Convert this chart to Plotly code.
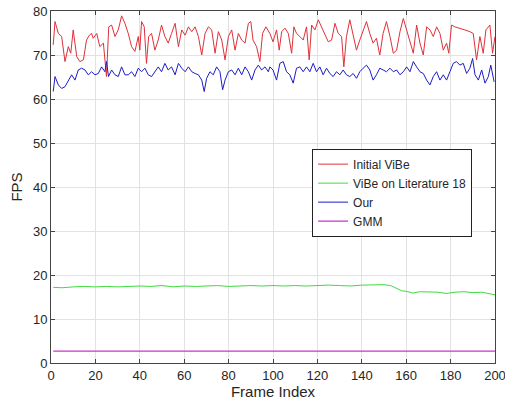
import plotly.graph_objects as go

# ---- data ----
red_frames = [1, 1.8, 3.3, 4.8, 6.3, 7.8, 8.9, 10, 11.6, 13, 14.6, 16, 17.3, 18.3, 19, 20.6, 22, 23.6,
              25, 26, 27.3, 28.8, 30.3, 31.8, 33.3, 34.8, 36.3, 37.8, 39.3, 40, 40.8, 42, 43, 44, 45.3,
              46.8, 48.3, 49.8, 51.3, 52.8, 54.3, 55.9, 57.4, 58.9, 60.4, 61.9, 63.4, 64.9, 66.4, 67.9,
              69.4, 70.9, 72.4, 73.9, 75.4, 76.9, 78.4, 79.9, 81.4, 82.9, 84.4, 85.9, 87.4, 88.9, 90,
              91, 92.6, 94.1, 95.3, 96.8, 98.6, 100, 101.6, 102.8, 103.9, 105.4, 106.9, 108.4, 109.4,
              110.6, 112.1, 113.6, 115.1, 116.3, 117.4, 118.9, 120.4, 121.9, 123.4, 124.9, 126.4,
              127.9, 129.4, 130.9, 131.9, 133.1, 134.6, 136.1, 137.6, 139.1, 140.6, 142.1, 143.6,
              145.1, 146.6, 148.1, 149.6, 151.1, 152.7, 154.2, 155.7, 157.2, 158.7, 160.2, 161.7,
              163.2, 164.7, 166.2, 167.7, 169.2, 170.7, 172.2, 173.7, 175.2, 176.7, 178.2, 179.2,
              180.4, 181.9, 184.2, 186.4, 188.7, 190.2, 191.7, 193.2, 194.7, 195.9, 197.7, 198.9, 200]
red_fps = [72.3, 77.6, 74.9, 74.2, 68.5, 71.9, 70.4, 75.7, 69.6, 68.5, 68.9, 73.4, 74.5, 74.9, 73.8,
           74.9, 71.9, 72.7, 65.1, 76.4, 76.8, 74.2, 75.7, 78.9, 77.2, 74.9, 71.9, 70.8, 74.2, 71.1,
           77.6, 76.4, 68.1, 74.2, 74.9, 71.1, 73.4, 76.8, 74.2, 72.7, 74.9, 77.2, 71.9, 75.7, 74.5,
           76.4, 75.3, 76.4, 74.2, 70.0, 74.9, 76.4, 75.7, 70.4, 75.3, 73.4, 68.9, 74.2, 75.7, 71.1,
           74.9, 73.4, 72.7, 77.2, 77.6, 73.4, 71.9, 68.5, 74.9, 76.4, 74.9, 73.0, 75.7, 71.1, 75.3,
           76.1, 74.9, 70.4, 76.4, 74.9, 74.2, 73.4, 76.4, 68.9, 76.8, 75.7, 78.0, 76.4, 74.9, 73.0,
           73.4, 77.2, 74.9, 74.2, 67.3, 74.2, 78.0, 74.9, 71.1, 73.4, 75.7, 77.6, 74.9, 72.7, 73.8,
           70.0, 74.9, 77.6, 74.2, 70.4, 71.1, 75.3, 78.3, 75.7, 72.7, 70.4, 76.8, 72.7, 70.0, 76.4,
           75.7, 74.2, 76.4, 74.9, 71.1, 72.7, 70.4, 76.8, 76.4, 76.1, 75.7, 75.3, 74.9, 68.9, 74.2,
           70.4, 75.7, 76.8, 70.4, 74.2]

blue_frames = [1, 1.8, 3.3, 4.8, 6.3, 7.8, 9.3, 10.8, 12.3, 13.8, 15.3, 16.8, 18.3, 19.8, 21.3, 22.8,
               24.3, 25, 25.9, 27.3, 28.8, 30.3, 31.8, 33.3, 34.8, 36.3, 37.8, 39.3, 40.8, 42.3, 43.8,
               45.3, 46.8, 48.3, 49.8, 51.3, 52.8, 54.3, 55.9, 57.4, 58.9, 60.4, 61.9, 63.4, 64.9,
               66.4, 67.9, 69, 70.1, 71.6, 73.1, 74.6, 76.1, 77.3, 78.4, 79.9, 81.4, 82.9, 84.4, 85.9,
               87.4, 88.9, 90.4, 91.9, 93.4, 94.9, 96.4, 97.9, 98.6, 100, 101.6, 103.1, 104.6, 106.1,
               107.6, 109.1, 110.6, 112.1, 113.6, 115.1, 116.6, 118.1, 119.6, 121.1, 122.6, 124.1,
               125.6, 127.1, 128.6, 130.1, 131.6, 133.1, 134.6, 136.1, 137.6, 139.1, 140.6, 142.1,
               143.6, 145.1, 146.6, 148.1, 149.6, 151.1, 152.7, 154.2, 155.7, 157.2, 158.7, 160.2,
               161.7, 163.2, 164.7, 166.2, 167.7, 169.2, 170.7, 172.2, 173.7, 175.2, 176.7, 178.2,
               179.7, 181.2, 182.7, 184.2, 185.7, 187.2, 188.7, 189.9, 191, 192.5, 194, 195.5, 197,
               198.1, 199.6]
blue_fps = [61.7, 65.1, 63.2, 62.4, 62.8, 64.3, 65.5, 64.3, 66.6, 67.0, 66.6, 65.5, 66.2, 65.5, 65.8,
            67.3, 66.2, 68.5, 65.1, 66.6, 65.5, 65.1, 67.3, 65.5, 65.5, 66.2, 65.1, 67.0, 66.2, 67.0,
            65.5, 65.1, 66.2, 67.3, 66.2, 68.1, 66.6, 67.3, 65.5, 68.1, 67.0, 66.2, 67.3, 66.2, 65.8,
            65.5, 64.3, 61.7, 64.7, 66.2, 65.5, 67.3, 66.2, 62.1, 64.3, 66.2, 66.6, 65.5, 67.0, 65.5,
            67.3, 66.2, 64.3, 66.6, 67.7, 66.6, 67.3, 66.2, 67.3, 66.6, 64.3, 68.1, 68.5, 66.2, 65.5,
            63.6, 67.0, 67.3, 66.2, 67.3, 66.2, 68.1, 66.2, 67.3, 65.5, 67.0, 65.8, 65.1, 66.2, 65.5,
            66.6, 65.5, 65.1, 65.8, 64.7, 66.2, 67.0, 67.7, 66.6, 64.3, 65.5, 67.0, 66.6, 66.2, 67.0,
            66.2, 66.6, 65.5, 66.2, 67.3, 66.2, 68.5, 67.3, 66.2, 65.8, 64.3, 63.2, 65.1, 66.2, 64.3,
            65.5, 64.3, 66.2, 68.1, 68.5, 67.7, 68.1, 65.8, 67.0, 69.2, 65.5, 64.3, 66.6, 63.6, 65.1,
            67.7, 63.9]

green_frames = [1, 5, 10, 15, 20, 25, 30, 35, 40, 45, 50, 55, 60, 65, 70, 75, 80, 85, 90, 95, 100,
                105, 110, 115, 120, 125, 130, 135, 140, 145, 150, 153, 156, 158, 160, 163, 166, 170,
                174, 178, 182, 186, 190, 194, 197, 200]
green_fps = [17.2, 17.1, 17.3, 17.4, 17.3, 17.4, 17.3, 17.4, 17.5, 17.4, 17.6, 17.3, 17.5, 17.4,
             17.5, 17.6, 17.4, 17.5, 17.6, 17.5, 17.6, 17.5, 17.6, 17.5, 17.6, 17.7, 17.6, 17.5,
             17.7, 17.8, 17.8, 17.6, 16.9, 16.4, 16.3, 15.9, 16.2, 16.2, 16.1, 15.8, 16.1, 16.2,
             16.0, 16.1, 15.8, 15.5]

gmm_frames = [1, 10, 20, 40, 60, 80, 100, 120, 140, 160, 180, 190, 200]
gmm_fps = [2.7, 2.7, 2.7, 2.7, 2.7, 2.7, 2.7, 2.7, 2.7, 2.7, 2.7, 2.6, 2.7]

x_ticks = list(range(0, 201, 20))
y_ticks = list(range(0, 81, 10))

FONT = "Liberation Sans, Arial, sans-serif"

fig = go.Figure()
fig.add_trace(go.Scatter(x=red_frames, y=red_fps, mode="lines", name="Initial ViBe",
                         line=dict(color="#e0303a", width=1)))
fig.add_trace(go.Scatter(x=green_frames, y=green_fps, mode="lines", name="ViBe on Literature 18",
                         line=dict(color="#3ddc3d", width=1)))
fig.add_trace(go.Scatter(x=blue_frames, y=blue_fps, mode="lines", name="Our",
                         line=dict(color="#1c1cc8", width=1)))
fig.add_trace(go.Scatter(x=gmm_frames, y=gmm_fps, mode="lines", name="GMM",
                         line=dict(color="#cc33cc", width=1.2)))

axis_common = dict(
    showline=True, linecolor="#444444", linewidth=1, mirror="ticks",
    ticks="inside", ticklen=4, tickcolor="#444444",
    showgrid=True, gridcolor="#e2e2e2", gridwidth=1, zeroline=False,
    tickfont=dict(family=FONT, size=13, color="#262626"),
    automargin=False, ticklabeloverflow="allow",
)

fig.update_layout(
    width=505, height=409,
    margin=dict(l=51, r=10, t=11, b=46, autoexpand=False),
    paper_bgcolor="white", plot_bgcolor="white",
    font=dict(family=FONT, color="#262626"),
    showlegend=True,
    legend=dict(x=0.588, y=0.609, xanchor="left", yanchor="top",
                bordercolor="#222222", borderwidth=1, bgcolor="white",
                font=dict(family=FONT, size=12, color="#262626"),
                tracegroupgap=0, itemwidth=30),
)
fig.update_xaxes(range=[0, 200], tickvals=x_ticks,
                 title=dict(text="Frame Index", font=dict(family=FONT, size=15), standoff=4),
                 **axis_common)
fig.update_yaxes(range=[0, 80], tickvals=y_ticks,
                 title=dict(text="FPS", font=dict(family=FONT, size=15), standoff=6),
                 **axis_common)

fig.write_html("out.html", config={"displayModeBar": False},
               post_script="document.body.style.margin='0';document.body.style.overflow='hidden';")
